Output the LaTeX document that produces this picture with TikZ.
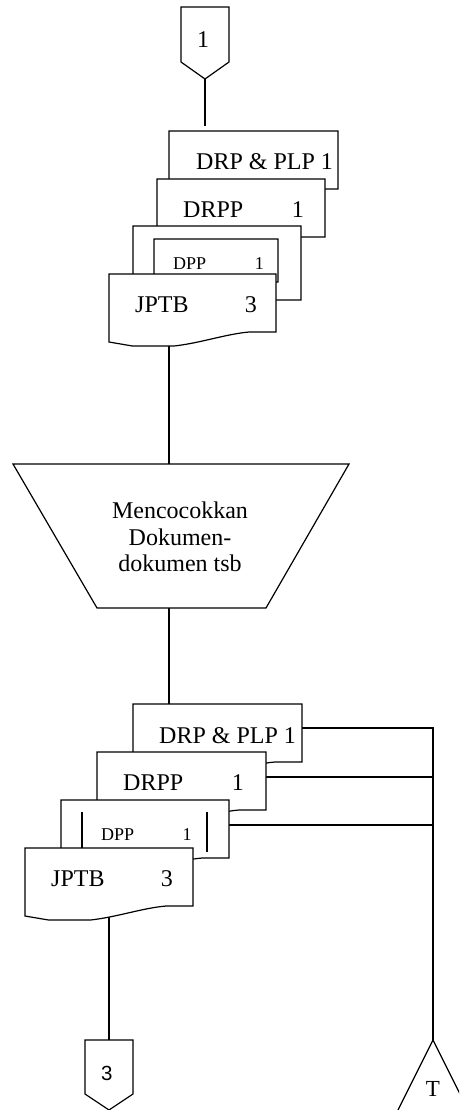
\documentclass[tikz,border=0pt]{standalone}
\usepackage{fontspec}
\setmainfont{Liberation Serif}
\newfontfamily\connfont{Liberation Sans}
\usetikzlibrary{calc}

\tikzset{
  flow/.style={draw=black, line width=1.2pt},
  doc/.style={draw=black, fill=white, line width=1.2pt, line join=miter},
  docarea/.style={inner sep=0pt, outer sep=0pt, minimum width=168pt, minimum height=58pt},
  area/.style={inner sep=0pt, outer sep=0pt},
  lbl/.style={inner sep=0pt, anchor=base west, font=\fontsize{24}{26.5}\selectfont},
  smalllbl/.style={inner sep=0pt, anchor=base west, font=\fontsize{18}{20}\selectfont},
}

% document symbol with a wavy lower edge, drawn over the area node #1
\newcommand\docoutline[1]{%
  \filldraw[doc] (#1.south east) -- (#1.north east) -- (#1.north west)
    -- ([yshift=-10pt]#1.south west)
    -- ($(#1.south west)!0.14!(#1.south east)+(0,14)$)
    -- ($(#1.south west)!0.39!(#1.south east)+(0,14)$)
    .. controls ($(#1.south west)!0.55!(#1.south east)+(0,11)$)
            and ($(#1.south west)!0.70!(#1.south east)+(0,2)$)
    .. ($(#1.south west)!0.84!(#1.south east)$)
    -- cycle;}

\begin{document}
\begin{tikzpicture}[x=1pt,y=-1pt]
\useasboundingbox (0,0) rectangle (459,1110);
\clip (0,0) rectangle (459,1110);
\fill[white] (0,0) rectangle (459,1110);

% ---- areas of all symbols ----
\node[area, minimum width=48pt, minimum height=72pt] (c1) at (205,43) {};
\node[docarea, minimum width=169pt] (a1) at (253.5,160) {};
\node[docarea] (a2) at (241,208) {};
\node[docarea, minimum height=74pt] (a3) at (217,263) {};
\node[docarea, minimum width=124pt, minimum height=43pt] (a3i) at (216,260.5) {};
\node[docarea, minimum width=167pt] (a4) at (192.5,303) {};
\node[area, minimum width=336pt, minimum height=144pt] (trap) at (181,536) {};
\node[docarea, minimum width=169pt] (b1) at (217.5,733) {};
\node[docarea, minimum width=169pt] (b2) at (181.5,781) {};
\node[docarea] (b3) at (145,829) {};
\node[docarea] (b4) at (109,877) {};
\node[area, minimum width=48pt, minimum height=70pt] (c3) at (109,1075) {};
\coordinate (tapex) at (433,1040);
\coordinate (spine) at (169,400);

% ---- flow lines ----
\draw[flow, shorten >=5pt] (c1.south) -- (c1.south |- a1.north);
\draw[flow] (spine |- a4.center) -- (spine |- trap.north);
\draw[flow] (spine |- trap.south) -- (spine |- b1.north);
\draw[flow] (b4.center) -- (c3.north);
\draw[flow] ([yshift=5pt]b1.center) -| (tapex);
\path ([yshift=4pt]b2.center) coordinate (r2);
\path ([yshift=4pt]b3.center) coordinate (r3);
\draw[flow] (r2) -- (r2 -| tapex);
\draw[flow] (r3) -- (r3 -| tapex);

% ---- off-page connector 1 ----
\filldraw[doc] (c1.north west) -- (c1.north east) -- ([yshift=17pt]c1.south east)
  -- (c1.south) -- ([yshift=17pt]c1.south west) -- cycle;
\node[inner sep=0pt, font=\fontsize{24}{26}\selectfont] (c1t) at (203,40) {1};

% ---- first document stack ----
\docoutline{a1}
\node[lbl] (a1t) at (196,169.5) {DRP \& PLP 1};
\docoutline{a2}
\node[lbl] (a2t) at (183,217) {DRPP};
\node[lbl] (a2n) at (291.7,217) {1};
\docoutline{a3}
\docoutline{a3i}
\node[smalllbl] (a3t) at (173,269) {DPP};
\node[smalllbl] (a3n) at (254.7,269) {1};
\docoutline{a4}
\node[lbl] (a4t) at (135,312.7) {JPTB};
\node[lbl] (a4n) at (244.7,312.7) {3};

% ---- manual operation ----
\filldraw[doc] (trap.north west) -- (trap.north east) -- ([xshift=-83pt]trap.south east)
  -- ([xshift=84pt]trap.south west) -- cycle;
\node[inner sep=0pt, align=center, font=\fontsize{24}{26.5}\selectfont] (trapt) at (180,537)
  {Mencocokkan\\Dokumen-\\dokumen tsb};

% ---- second document stack ----
\docoutline{b1}
\node[lbl] (b1t) at (159,743) {DRP \& PLP 1};
\docoutline{b2}
\node[lbl] (b2t) at (123,790.7) {DRPP};
\node[lbl] (b2n) at (231.7,790.7) {1};
\docoutline{b3}
\draw[flow] ([xshift=21pt,yshift=-12pt]b3.north west) -- ++(0,40);
\draw[flow] ([xshift=-22pt,yshift=-12pt]b3.north east) -- ++(0,40);
\node[smalllbl] (b3t) at (101,840) {DPP};
\node[smalllbl] (b3n) at (182.3,840) {1};
\docoutline{b4}
\node[lbl] (b4t) at (51,886) {JPTB};
\node[lbl] (b4n) at (160.7,886) {3};

% ---- off-page connector 3 ----
\filldraw[doc] (c3.north west) -- (c3.north east) -- ([yshift=16pt]c3.south east)
  -- (c3.south) -- ([yshift=16pt]c3.south west) -- cycle;
\node[inner sep=0pt, font=\connfont\fontsize{20.5}{22}\selectfont] (c3t) at (106.7,1073) {3};

% ---- file (T) ----
\draw[flow, line join=miter] (tapex) ++(-35,70) -- (tapex) -- ++(35,70);
\node[inner sep=0pt, font=\fontsize{23}{25}\selectfont] (tt) at (433,1089) {T};

\end{tikzpicture}
\end{document}
